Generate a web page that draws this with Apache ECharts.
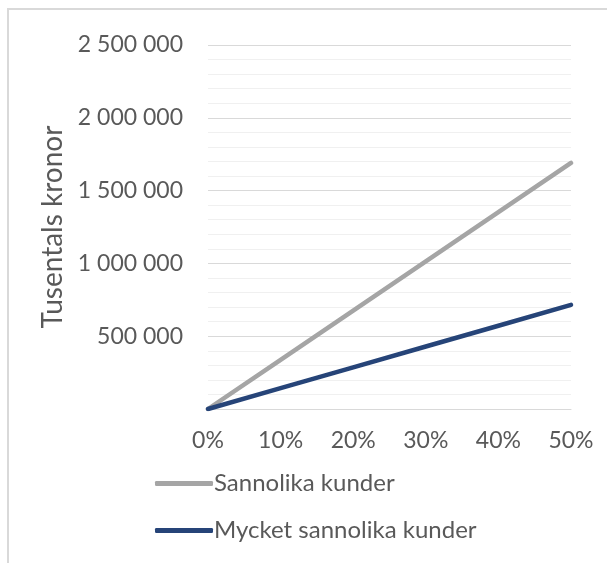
<!DOCTYPE html>
<html>
<head>
<meta charset="utf-8">
<script src="https://cdn.jsdelivr.net/npm/echarts@6/dist/echarts.min.js"></script>
<style>
  html, body { margin: 0; padding: 0; background: #fff; }
  #chart { width: 607px; height: 563px; }
</style>
</head>
<body>
<div id="chart"></div>
<script>
// data
const categories = ['0%', '10%', '20%', '30%', '40%', '50%'];
const sannolika = [0, 338000, 676000, 1014000, 1352000, 1690000];
const mycketSannolika = [0, 143000, 286000, 429000, 572000, 715000];
const seriesNames = ['Sannolika kunder', 'Mycket sannolika kunder'];
const yTitle = 'Tusentals kronor';

const font = 'Lato, "Open Sans", sans-serif';
const textColor = '#595959';

// 2 500 000 style
const formatNumber = (v) => {
  if (v === 0) return '';
  return String(v).replace(/\B(?=(\d{3})+(?!\d))/g, ' ');
};

const chart = echarts.init(document.getElementById('chart'));

const option = {
  animation: false,
  backgroundColor: '#fff',
  graphic: [
    {
      type: 'rect',
      shape: { x: 8, y: 9, width: 700, height: 700 },
      style: { fill: 'none', stroke: '#D9D9D9', lineWidth: 2 },
      silent: true
    }
  ],
  grid: {
    left: 208,
    right: 36,
    top: 45,
    bottom: 154
  },
  legend: {
    orient: 'vertical',
    left: 150,
    top: 466,
    itemWidth: 58,
    itemHeight: 5,
    itemGap: 22,
    icon: 'roundRect',
    textStyle: {
      fontFamily: font,
      fontSize: 24,
      color: textColor,
      lineHeight: 25,
      padding: [0, 0, 0, -4]
    },
    data: seriesNames
  },
  xAxis: {
    type: 'category',
    data: categories,
    boundaryGap: false,
    axisLine: { show: true, lineStyle: { color: '#D9D9D9', width: 1 } },
    axisTick: { show: false },
    axisLabel: {
      margin: 20,
      fontFamily: font,
      fontSize: 23,
      color: textColor
    },
    splitLine: { show: false }
  },
  yAxis: {
    type: 'value',
    min: 0,
    max: 2500000,
    interval: 500000,
    name: yTitle,
    nameLocation: 'middle',
    nameRotate: 90,
    nameGap: 140,
    nameTextStyle: {
      fontFamily: font,
      fontSize: 28,
      color: textColor
    },
    axisLine: { show: false },
    axisTick: { show: false },
    axisLabel: {
      margin: 25,
      fontFamily: font,
      fontSize: 23,
      color: textColor,
      formatter: formatNumber
    },
    splitLine: { show: true, lineStyle: { color: '#D9D9D9', width: 1 } },
    minorTick: { show: false, splitNumber: 5 },
    minorSplitLine: { show: true, lineStyle: { color: '#F0F0F0', width: 1 } }
  },
  series: [
    {
      name: seriesNames[0],
      type: 'line',
      data: sannolika,
      symbol: 'none',
      lineStyle: { color: '#A5A5A5', width: 4.5, cap: 'round' },
      itemStyle: { color: '#A5A5A5' }
    },
    {
      name: seriesNames[1],
      type: 'line',
      data: mycketSannolika,
      symbol: 'none',
      lineStyle: { color: '#264478', width: 4.5, cap: 'round' },
      itemStyle: { color: '#264478' }
    }
  ]
};

chart.setOption(option);
</script>
</body>
</html>
